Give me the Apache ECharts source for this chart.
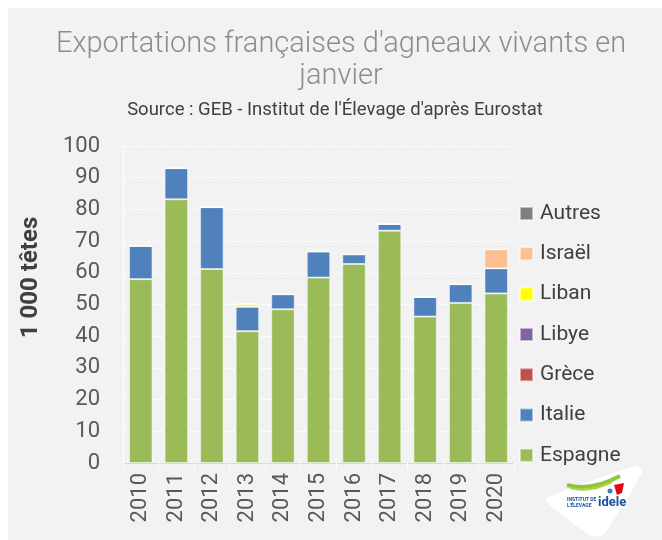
<!DOCTYPE html>
<html>
<head>
<meta charset="utf-8">
<script src="https://cdn.jsdelivr.net/npm/echarts@6/dist/echarts.min.js"></script>
<style>
  html, body { margin: 0; padding: 0; background: #ffffff; }
  #chart { width: 662px; height: 540px; }
</style>
</head>
<body>
<div id="chart"></div>
<script>
  // années et valeurs (milliers de têtes)
  let annees = ['2010', '2011', '2012', '2013', '2014', '2015', '2016', '2017', '2018', '2019', '2020'];
  let espagne = [58.0, 83.2, 61.2, 41.6, 48.5, 58.5, 62.8, 73.3, 46.2, 50.5, 53.5];
  let italie = [10.5, 9.8, 19.5, 7.7, 4.7, 8.2, 3.0, 2.1, 6.2, 5.9, 7.9];
  let grece = [0, 0, 0, 0, 0, 0, 0, 0, 0, 0, 0];
  let libye = [0, 0, 0, 0, 0, 0, 0, 0, 0, 0, 0];
  let liban = [0, 0, 0, 0.9, 0, 0, 0, 0, 0, 0, 0];
  let israel = [0, 0, 0, 0, 0, 0, 0, 0, 0, 0, 6.0];
  let autres = [0, 0, 0, 0, 0, 0.3, 0, 0.3, 0, 0, 0];
  let yTicks = [0, 100, 10];

  let font = 'Roboto';
  let myChart = echarts.init(document.getElementById('chart'));

  function serie(name, data, color) {
    return {
      name: name,
      type: 'bar',
      stack: 'total',
      data: data,
      barWidth: '66%',
      itemStyle: {color: color, borderColor: 'rgba(255,255,255,0.5)', borderWidth: 1},
      emphasis: {disabled: true}
    };
  }

  myChart.setOption({
    backgroundColor: '#ffffff',
    textStyle: {fontFamily: font},
    graphic: [
      {type: 'rect', shape: {x: 8, y: 8, width: 660, height: 540}, style: {fill: '#f2f2f2'}, z: -10},
      // logo idele (simplifié)
      {type: 'polygon', shape: {points: [[548, 497], [636, 466], [642, 472], [604, 534], [592, 536], [546, 502]], smooth: 0.25}, style: {fill: '#ffffff'}},
      {type: 'bezierCurve', shape: {x1: 567, y1: 485, x2: 620, y2: 476, cpx1: 585, cpy1: 490, cpx2: 605, cpy2: 484}, style: {stroke: '#8cc63f', lineWidth: 4, fill: null}},
      {type: 'bezierCurve', shape: {x1: 570, y1: 488, x2: 612, y2: 482, cpx1: 585, cpy1: 492, cpx2: 600, cpy2: 488}, style: {stroke: '#b5d334', lineWidth: 2, fill: null}},
      {type: 'polygon', shape: {points: [[614, 485], [624, 483], [622, 493], [617, 495]]}, style: {fill: '#e30613'}},
      {type: 'circle', shape: {cx: 610, cy: 491, r: 2.5}, style: {fill: '#3a7dc9'}},
      {type: 'text', style: {x: 567, y: 497, text: 'INSTITUT DE\nL\'ÉLEVAGE', font: 'bold 5px ' + font, fill: '#1d4f9c', lineHeight: 6}},
      {type: 'text', style: {x: 598, y: 496, text: 'idele', font: 'bold 13px ' + font, fill: '#1d4f9c'}}
    ],
    title: [
      {
        text: 'Exportations françaises d\'agneaux vivants en\njanvier',
        left: 336,
        top: 24,
        textAlign: 'center',
        textStyle: {fontFamily: font, fontSize: 29, fontWeight: 300, color: '#8c8c8c', lineHeight: 32}
      },
      {
        text: 'Source : GEB - Institut de l\'Élevage d\'après Eurostat',
        left: 330,
        top: 96,
        textAlign: 'center',
        textStyle: {fontFamily: font, fontSize: 18.5, fontWeight: 'normal', color: '#404040'}
      }
    ],
    legend: {
      orient: 'vertical',
      left: 514,
      top: 198,
      itemWidth: 13,
      itemHeight: 13,
      itemGap: 19.3,
      icon: 'rect',
      data: ['Autres', 'Israël', 'Liban', 'Libye', 'Grèce', 'Italie', 'Espagne'],
      textStyle: {fontFamily: font, fontSize: 21, color: '#404040', padding: [0, 0, 0, 2]}
    },
    grid: {left: 123, right: 148, top: 146, bottom: 77, outerBoundsMode: 'none'},
    xAxis: {
      type: 'category',
      data: annees,
      axisLine: {lineStyle: {color: '#d9d9d9'}},
      axisTick: {show: true, length: 6, lineStyle: {color: '#ffffff'}},
      axisLabel: {rotate: 90, margin: 10, fontSize: 22, color: '#595959', fontFamily: font}
    },
    yAxis: {
      type: 'value',
      min: yTicks[0],
      max: yTicks[1],
      interval: yTicks[2],
      name: '1 000 têtes',
      nameLocation: 'middle',
      nameRotate: 90,
      nameGap: 80,
      nameTextStyle: {fontFamily: font, fontSize: 24, fontWeight: 'bold', color: '#404040', padding: [0, 0, 0, 54]},
      axisLine: {show: true, lineStyle: {color: '#ffffff'}},
      axisLabel: {margin: 23, fontSize: 22, color: '#595959', fontFamily: font},
      splitLine: {lineStyle: {color: '#ffffff', type: 'dashed', width: 1}}
    },
    series: [
      serie('Espagne', espagne, '#9bbb59'),
      serie('Italie', italie, '#4f81bd'),
      serie('Grèce', grece, '#c0504d'),
      serie('Libye', libye, '#8064a2'),
      serie('Liban', liban, '#ffff00'),
      serie('Israël', israel, '#fac090'),
      serie('Autres', autres, '#7f7f7f')
    ]
  });
</script>
</body>
</html>
